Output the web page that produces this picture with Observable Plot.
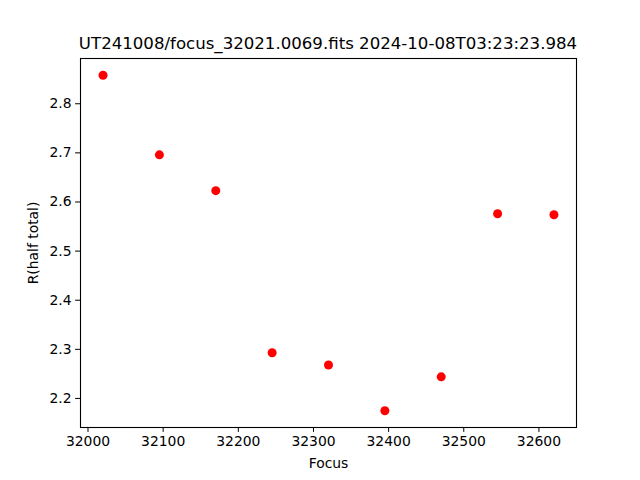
<!DOCTYPE html>
<html>
<head>
<meta charset="utf-8">
<script src="https://cdn.jsdelivr.net/npm/d3@7"></script>
<script src="https://cdn.jsdelivr.net/npm/@observablehq/plot@0.6"></script>
<style>
  body { margin: 0; background: #fff; }
  #wrap { position: relative; width: 640px; height: 480px; font-family: "DejaVu Sans", sans-serif; }
  #title { position: absolute; left: 78px; width: 500px; top: 34px; line-height: 20px; font-size: 16.6px; text-align: center; color: #000; white-space: nowrap; }
  #chart { position: absolute; left: 0; top: 0; }
</style>
</head>
<body>
<div id="wrap">
  <div id="chart"></div>
  <div id="title">UT241008/focus_32021.0069.fits 2024-10-08T03:23:23.984</div>
</div>
<script>
const focus = [32020, 32095, 32170, 32245, 32320, 32395, 32470, 32545, 32620];
const rHalf = [2.858, 2.696, 2.623, 2.293, 2.268, 2.175, 2.244, 2.576, 2.574];
const xTicks = [32000, 32100, 32200, 32300, 32400, 32500, 32600];
const yTicks = [2.2, 2.3, 2.4, 2.5, 2.6, 2.7, 2.8];

const data = focus.map((f, i) => ({focus: f, r: rHalf[i]}));

function padded(vals) {
  const lo = d3.min(vals), hi = d3.max(vals), s = hi - lo;
  return [lo - 0.05 * s, hi + 0.05 * s];
}

const plot = Plot.plot({
  width: 640,
  height: 480,
  marginLeft: 80,
  marginRight: 64,
  marginTop: 58,
  marginBottom: 53,
  style: {fontFamily: "DejaVu Sans, sans-serif", fontSize: "13.9px", color: "#000", background: "#fff"},
  x: {domain: padded(focus)},
  y: {domain: padded(rHalf)},
  marks: [
    Plot.frame({stroke: "#000", strokeWidth: 1.1}),
    Plot.axisX({ticks: xTicks, tickFormat: d3.format("d"), tickSize: 4.9, tickPadding: 4, label: "Focus", labelAnchor: "center", labelArrow: "none", labelOffset: 40}),
    Plot.axisY({ticks: yTicks, tickFormat: d3.format(".1f"), tickSize: 4.9, tickPadding: 4, label: "R(half total)", labelAnchor: "center", labelArrow: "none", labelOffset: 52}),
    Plot.dot(data, {x: "focus", y: "r", r: 4.5, fill: "red", stroke: "none"})
  ]
});
document.getElementById("chart").appendChild(plot);
</script>
</body>
</html>
